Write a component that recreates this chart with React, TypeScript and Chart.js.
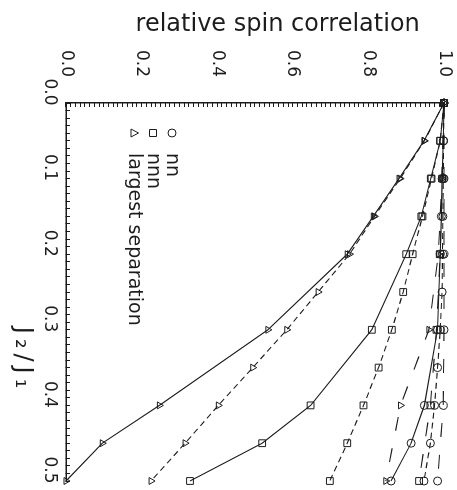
import React, { useEffect, useRef } from "react";
import { Chart, registerables } from "chart.js";

Chart.register(...registerables);

const INK = "#1c1c1c";
const FONT = "'DejaVu Sans', 'Liberation Sans', sans-serif";

const X_TITLE = "J₂/J₁";
const Y_TITLE = "relative spin correlation";
const LEGEND_LABELS = ["nn", "nnn", "largest separation"];
const LEGEND_MARKERS = ["circle", "rect", "triangle"];

// J2/J1 grids
const J_ALL = [0, 0.05, 0.1, 0.15, 0.2, 0.25, 0.3, 0.35, 0.4, 0.45, 0.5];
const J_MAIN = [0, 0.05, 0.1, 0.15, 0.2, 0.3, 0.4, 0.45, 0.5];
const J_COARSE = [0, 0.1, 0.2, 0.3, 0.4, 0.5];

// solid curves (J_MAIN)
const NN_SOLID = [1.0, 0.998, 0.995, 0.993, 0.99, 0.983, 0.948, 0.913, 0.86];
const NNN_SOLID = [1.0, 0.99, 0.965, 0.94, 0.9, 0.809, 0.647, 0.519, 0.328];
const LS_SOLID = [1.0, 0.947, 0.881, 0.813, 0.744, 0.534, 0.247, 0.096, 0.0];

// short-dashed curves (J_ALL)
const NN_DASH = [1.0, 0.999, 0.998, 0.997, 0.996, 0.995, 0.99, 0.983, 0.975, 0.964, 0.947];
const NNN_DASH = [1.0, 0.99, 0.967, 0.943, 0.917, 0.892, 0.862, 0.827, 0.787, 0.744, 0.698];
const LS_DASH = [1.0, 0.948, 0.884, 0.816, 0.75, 0.667, 0.584, 0.494, 0.403, 0.315, 0.225];

// long-dashed curves (J_COARSE)
const NN_LONG = [1.0, 1.0, 1.0, 1.0, 0.998, 0.983];
const NNN_LONG = [1.0, 0.995, 0.99, 0.98, 0.964, 0.934];
const LS_LONG = [1.0, 0.995, 0.985, 0.96, 0.885, 0.846];

const SHORT_DASH = [6, 4];
const LONG_DASH = [14, 18];

const SERIES = [
  { j: J_MAIN, v: NN_SOLID, marker: "circle", dash: [] as number[] },
  { j: J_MAIN, v: NNN_SOLID, marker: "rect", dash: [] as number[] },
  { j: J_MAIN, v: LS_SOLID, marker: "triangle", dash: [] as number[] },
  { j: J_ALL, v: NN_DASH, marker: "circle", dash: SHORT_DASH },
  { j: J_ALL, v: NNN_DASH, marker: "rect", dash: SHORT_DASH },
  { j: J_ALL, v: LS_DASH, marker: "triangle", dash: SHORT_DASH },
  { j: J_COARSE, v: NN_LONG, marker: "circle", dash: LONG_DASH },
  { j: J_COARSE, v: NNN_LONG, marker: "rect", dash: LONG_DASH },
  { j: J_COARSE, v: LS_LONG, marker: "triangle", dash: LONG_DASH },
];

const isMult = (v: number, step: number) => Math.abs(v / step - Math.round(v / step)) < 1e-6;

function drawMarker(ctx: CanvasRenderingContext2D, style: string, x: number, y: number) {
  ctx.beginPath();
  if (style === "circle") {
    ctx.arc(x, y, 4, 0, Math.PI * 2);
  } else if (style === "rect") {
    ctx.rect(x - 3.5, y - 3.5, 7, 7);
  } else {
    ctx.moveTo(x, y - 4.5);
    ctx.lineTo(x + 4, y + 3);
    ctx.lineTo(x - 4, y + 3);
    ctx.closePath();
  }
  ctx.stroke();
}

const overlayPlugin = {
  id: "overlay",
  afterDraw(chart: any) {
    const { ctx, chartArea, scales } = chart;
    const xs = scales.x;
    const ys = scales.y;
    ctx.save();
    ctx.fillStyle = INK;
    ctx.strokeStyle = INK;
    ctx.lineWidth = 1;
    ctx.textBaseline = "middle";

    // y-axis title
    ctx.save();
    ctx.font = `24px ${FONT}`;
    ctx.translate(25, ys.getPixelForValue(0.56));
    ctx.rotate(-Math.PI / 2);
    ctx.textAlign = "center";
    ctx.fillText(Y_TITLE, 0, 0);
    ctx.restore();

    // x-axis title
    ctx.save();
    ctx.font = `24px ${FONT}`;
    (ctx as any).letterSpacing = "5px";
    ctx.textAlign = "center";
    ctx.fillText(X_TITLE, xs.getPixelForValue(0.34), chartArea.bottom + 44);
    ctx.restore();

    // legend
    ctx.font = `19px ${FONT}`;
    ctx.textAlign = "left";
    LEGEND_LABELS.forEach((label, i) => {
      const cy = chartArea.bottom - 106 + i * 19;
      drawMarker(ctx, LEGEND_MARKERS[i], chartArea.left + 30, cy);
      ctx.fillText(label, chartArea.left + 50, cy);
    });
    ctx.restore();
  },
};

export default function App() {
  const ref = useRef<HTMLCanvasElement>(null);

  useEffect(() => {
    const datasets = SERIES.map((s, k) => ({
      label: `s${k}`,
      data: s.j.map((j, i) => ({ x: j, y: s.v[i] })),
      showLine: true,
      borderColor: INK,
      borderWidth: 1.1,
      borderDash: s.dash,
      pointStyle: s.marker,
      pointRadius: s.marker === "rect" ? 4.8 : 4,
      pointBorderWidth: 1,
      pointBorderColor: INK,
      pointBackgroundColor: "rgba(255,255,255,0)",
      clip: false,
    }));

    const chart = new Chart(ref.current as HTMLCanvasElement, {
      type: "scatter",
      data: { datasets } as any,
      options: {
        responsive: false,
        animation: false,
        devicePixelRatio: 1,
        layout: { padding: { left: 0, top: 13, right: 9, bottom: 0 } },
        plugins: {
          legend: { display: false },
          tooltip: { enabled: false },
        },
        scales: {
          x: {
            type: "linear",
            position: "bottom",
            min: 0,
            max: 0.5,
            ticks: {
              stepSize: 0.01,
              autoSkip: false,
              maxRotation: 0,
              minRotation: 0,
              padding: 10,
              labelOffset: -11,
              color: INK,
              font: { family: FONT, size: 17 },
              callback: (v: any) => (isMult(Number(v), 0.1) ? Number(v).toFixed(1) : ""),
            },
            grid: { drawOnChartArea: false, drawTicks: true, tickLength: -4, tickColor: INK, tickWidth: 1 },
            border: { display: true, color: INK, width: 1.5 },
            afterFit: (s: any) => {
              s.height = 66;
              s.paddingLeft = 0;
              s.paddingRight = 0;
            },
          },
          y: {
            type: "linear",
            position: "left",
            min: 0,
            max: 1,
            ticks: {
              stepSize: 0.0125,
              autoSkip: false,
              padding: 30,
              color: INK,
              font: { family: FONT, size: 17 },
              callback: (v: any) => (isMult(Number(v), 0.2) ? Number(v).toFixed(1) : ""),
            },
            grid: { drawOnChartArea: false, drawTicks: true, tickLength: -4, tickColor: INK, tickWidth: 1 },
            border: { display: true, color: INK, width: 1.5 },
            afterFit: (s: any) => {
              s.width = 103;
              s.paddingTop = 0;
              s.paddingBottom = 0;
            },
          },
        },
      } as any,
      plugins: [overlayPlugin],
    });
    return () => chart.destroy();
  }, []);

  return (
    <div
      style={{
        position: "fixed",
        left: 0,
        top: 0,
        width: 457,
        height: 490,
        overflow: "hidden",
        background: "#fff",
      }}
    >
      <div
        style={{
          position: "absolute",
          left: 0,
          top: 0,
          width: 490,
          height: 457,
          transformOrigin: "0 0",
          transform: "translate(457px, 0) rotate(90deg)",
        }}
      >
        <canvas ref={ref} width={490} height={457} style={{ width: 490, height: 457, display: "block" }} />
      </div>
    </div>
  );
}
